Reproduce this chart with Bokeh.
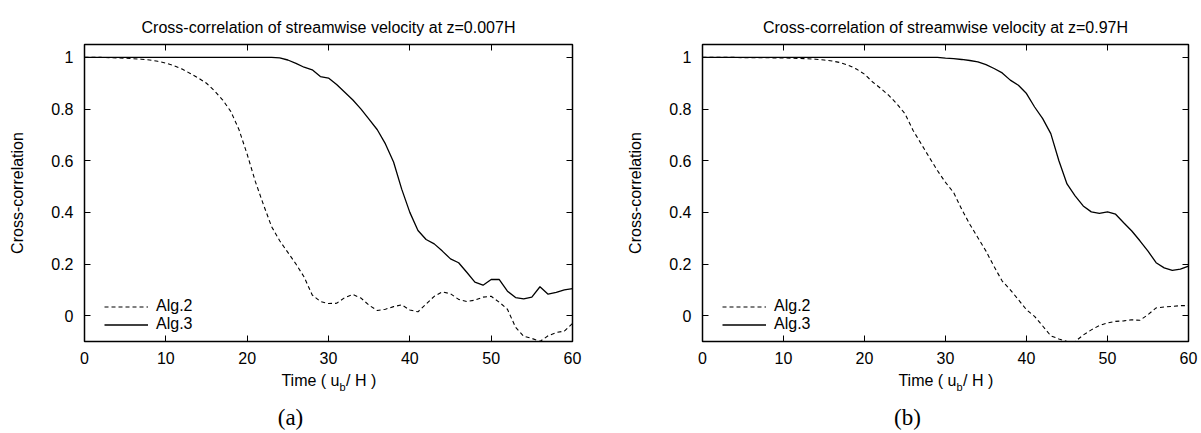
from bokeh.plotting import figure
from bokeh.layouts import row, column
from bokeh.models import LinearAxis, FixedTicker, Range1d, Legend, Label
from bokeh.embed import file_html
from bokeh.resources import INLINE

# ---------------- data ----------------
time = list(range(61))

# (a) z = 0.007H
alg2_a = [1.0, 1.0, 1.0, 0.999, 0.998, 0.997, 0.995, 0.993, 0.99, 0.985,
          0.978, 0.968, 0.955, 0.938, 0.92, 0.9, 0.87, 0.835, 0.79, 0.72,
          0.625, 0.52, 0.43, 0.345, 0.29, 0.245, 0.2, 0.15, 0.08, 0.055,
          0.047, 0.048, 0.07, 0.082, 0.068, 0.04, 0.02, 0.025, 0.035, 0.042,
          0.022, 0.015, 0.045, 0.075, 0.092, 0.085, 0.063, 0.055, 0.06, 0.072,
          0.075, 0.052, 0.025, -0.045, -0.08, -0.088, -0.1, -0.078, -0.065, -0.06,
          -0.03]
alg3_a = [1.0] * 24 + [0.998, 0.99, 0.977, 0.962, 0.952, 0.926,
          0.92, 0.895, 0.865, 0.835, 0.8, 0.76, 0.72, 0.665, 0.595, 0.49,
          0.4, 0.33, 0.295, 0.278, 0.25, 0.22, 0.205, 0.168, 0.13, 0.118,
          0.14, 0.14, 0.095, 0.07, 0.065, 0.072, 0.112, 0.083, 0.09, 0.1,
          0.105]

# (b) z = 0.97H
alg2_b = [1.0, 1.0, 1.0, 1.0, 1.0, 0.999, 0.999, 0.999, 0.999, 0.998,
          0.998, 0.997, 0.996, 0.995, 0.993, 0.99, 0.986, 0.98, 0.97, 0.955,
          0.935, 0.905, 0.88, 0.853, 0.82, 0.782, 0.717, 0.665, 0.613, 0.562,
          0.516, 0.477, 0.412, 0.354, 0.302, 0.25, 0.19, 0.134, 0.1, 0.062,
          0.023, -0.003, -0.04, -0.078, -0.09, -0.1, -0.1, -0.075, -0.055, -0.038,
          -0.028, -0.022, -0.02, -0.016, -0.018, 0.004, 0.03, 0.034, 0.036, 0.039,
          0.039]
alg3_b = [1.0] * 30 + [0.997, 0.995, 0.992, 0.988, 0.983, 0.972, 0.957, 0.94, 0.912, 0.892,
          0.86, 0.808, 0.763, 0.705, 0.6, 0.51, 0.464, 0.425, 0.402, 0.396,
          0.402, 0.393, 0.36, 0.328, 0.29, 0.25, 0.205, 0.185, 0.175, 0.18,
          0.192]

x_ticks = [0, 10, 20, 30, 40, 50, 60]
y_ticks = [0, 0.2, 0.4, 0.6, 0.8, 1]
y_tick_labels = ["0", "0.2", "0.4", "0.6", "0.8", "1"]

titles = ["Cross-correlation of streamwise velocity at z=0.007H",
          "Cross-correlation of streamwise velocity at z=0.97H"]
sub_labels = ["(a)", "(b)"]
series_names = ["Alg.2", "Alg.3"]

FONT = "Liberation Sans"
SERIF = "Liberation Serif"
FH = 297          # frame height
TOP = 44          # space above frame
BOT = 30          # space below frame in the plot figure
TXT_H = 433 - TOP - FH - BOT   # height of the caption strip


def style_axis(ax, labels):
    ax.major_tick_in = 6
    ax.major_tick_out = 0
    ax.minor_tick_line_color = None
    ax.axis_line_color = "black"
    ax.axis_line_width = 1
    ax.major_tick_line_color = "black"
    ax.major_tick_line_width = 1
    ax.major_label_text_font = FONT
    ax.major_label_text_color = "black"
    ax.major_label_text_font_size = "16px" if labels else "0px"


def make(title, a2, a3, sub, bl, fw, br, sub_dx):
    p = figure(frame_width=fw, frame_height=FH,
               min_border_left=bl, min_border_right=br,
               min_border_top=TOP, min_border_bottom=BOT,
               x_range=Range1d(0, 60), y_range=Range1d(-0.1, 1.05),
               output_backend="svg", toolbar_location=None, tools="")
    p.background_fill_color = "white"
    p.border_fill_color = "white"
    p.outline_line_color = "black"
    p.outline_line_width = 1.5
    p.xgrid.visible = False
    p.ygrid.visible = False

    p.title.text = title
    p.title.align = "center"
    p.title.text_font = FONT
    p.title.text_font_size = "16px"
    p.title.text_font_style = "normal"
    p.title.text_color = "black"
    p.title.standoff = 17

    p.xaxis.ticker = FixedTicker(ticks=x_ticks)
    p.yaxis.ticker = FixedTicker(ticks=y_ticks)
    p.yaxis.major_label_overrides = {t: l for t, l in zip(y_ticks, y_tick_labels)}
    style_axis(p.xaxis[0], True)
    style_axis(p.yaxis[0], True)
    p.xaxis.major_label_standoff = 10
    p.yaxis.major_label_standoff = 11
    p.yaxis.axis_label = "Cross-correlation"
    p.yaxis.axis_label_text_font = FONT
    p.yaxis.axis_label_text_font_size = "16px"
    p.yaxis.axis_label_text_font_style = "normal"
    p.yaxis.axis_label_text_color = "black"
    p.yaxis.axis_label_standoff = 22

    top = LinearAxis(ticker=FixedTicker(ticks=x_ticks))
    top.major_label_overrides = {t: "" for t in x_ticks}
    style_axis(top, False)
    p.add_layout(top, "above")
    right = LinearAxis(ticker=FixedTicker(ticks=y_ticks))
    right.major_label_overrides = {t: "" for t in y_ticks}
    style_axis(right, False)
    p.add_layout(right, "right")

    r2 = p.line(time, a2, line_color="black", line_width=1.1, line_dash="4 3")
    r3 = p.line(time, a3, line_color="black", line_width=1.3)

    leg = Legend(items=[(series_names[0], [r2]), (series_names[1], [r3])],
                 location=(20, 8), label_text_font=FONT, label_text_font_size="16px",
                 label_text_color="black",
                 glyph_width=44, glyph_height=15, label_height=15, spacing=0,
                 padding=0, margin=0, border_line_color=None,
                 background_fill_alpha=0, label_standoff=8)
    p.add_layout(leg)

    # caption strip below the plot (its frame is aligned with the plot frame)
    c = figure(frame_width=fw, height=TXT_H, min_border=0,
               min_border_left=bl, min_border_right=br,
               x_range=Range1d(0, 1), y_range=Range1d(0, 1),
               x_axis_location=None, y_axis_location=None,
               output_backend="svg", toolbar_location=None, tools="")
    c.outline_line_color = None
    c.xgrid.visible = False
    c.ygrid.visible = False
    c.background_fill_color = "white"
    c.border_fill_color = "white"

    cx = fw / 2
    y0 = TOP + FH + BOT      # absolute top of caption strip

    def ly(abs_y):
        return TXT_H - (abs_y - y0)

    common = dict(x_units="screen", y_units="screen", text_color="black",
                  text_baseline="middle")
    c.add_layout(Label(x=cx + 11, y=ly(380), text="Time ( u", text_align="right",
                       text_font=FONT, text_font_size="16px", **common))
    c.add_layout(Label(x=cx + 11, y=ly(386), text="b", text_align="left",
                       text_font=FONT, text_font_size="11px", **common))
    c.add_layout(Label(x=cx + 17.5, y=ly(380), text="/ H )", text_align="left",
                       text_font=FONT, text_font_size="16px", **common))
    c.add_layout(Label(x=cx + sub_dx, y=ly(417), text=sub, text_align="center",
                       text_font=SERIF, text_font_size="23px", **common))
    return column(p, c, spacing=0)


left = make(titles[0], alg2_a, alg3_a, sub_labels[0], 84, 488, 28, -38)
right_panel = make(titles[1], alg2_b, alg3_b, sub_labels[1], 102, 486, 13, -38)
layout = row(left, right_panel, spacing=0)

open("out.html", "w").write(file_html(layout, INLINE))
